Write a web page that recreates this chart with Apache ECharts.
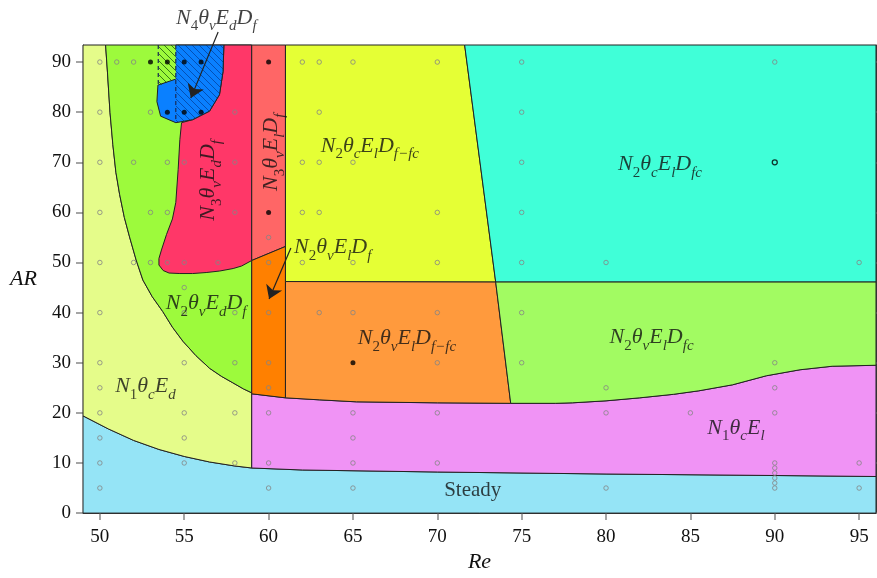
<!DOCTYPE html>
<html>
<head>
<meta charset="utf-8">
<title>Regime map</title>
<script src="https://cdn.jsdelivr.net/npm/echarts@6/dist/echarts.min.js"></script>
<style>
  html, body { margin: 0; padding: 0; background: #fff; }
  #chart { width: 877px; height: 578px; }
</style>
</head>
<body>
<div id="chart"></div>
<script>
const xTicks = [50, 55, 60, 65, 70, 75, 80, 85, 90, 95];
const yTicks = [0, 10, 20, 30, 40, 50, 60, 70, 80, 90];
const RE_MIN = 49, RE_MAX = 96, AR_MAX = 93.4;

// regime boundaries, points are [Re, AR]
const steadyLeft = [[49, 19.4], [50.5, 16.8], [52, 14.5], [53.5, 12.7], [55, 11.3], [56.5, 10.2], [58, 9.4], [59, 9.0]];
const steadyRight = [[59, 9.0], [62, 8.6], [70, 8.2], [80, 7.8], [90, 7.5], [96, 7.3]];
const n1Curve = [[50.34, 93.4], [50.45, 88], [50.6, 80], [50.77, 73.5], [50.95, 68], [51.17, 63.6], [51.45, 59],
  [51.76, 55.1], [52.15, 50.5], [52.55, 46.5], [53.1, 43.2], [53.73, 40.2], [54.3, 37.1], [54.92, 34.3],
  [55.7, 31.4], [56.5, 28.9], [57.2, 27.3], [57.88, 26.0], [58.5, 24.8], [59, 24.0]];
const elLeft = [[59, 23.8], [61, 23.0]];
const elMid = [[61, 23.0], [63, 22.6], [65.2, 22.2], [70, 22.0], [74.35, 21.9]];
const elRight = [[74.35, 21.9], [77, 21.9], [78, 22.0], [80, 22.4], [82, 23.0], [84, 23.7], [85.5, 24.4],
  [87.5, 25.6], [89.5, 27.4], [91.5, 28.6], [93.4, 29.3], [96, 29.5]];
const n3EdOutline = [[57.35, 93.4], [59, 93.4], [59, 50.4], [58.4, 49.3], [57.9, 48.8], [57.1, 48.3], [56.3, 48.0],
  [55.5, 47.8], [54.74, 47.8], [54.1, 47.9], [53.75, 48.4], [53.5, 49.5], [53.5, 50.8], [53.65, 52.5],
  [53.95, 55.6], [54.3, 58.7], [54.5, 62], [54.64, 68.6], [54.74, 74.5], [54.84, 77.9], [55.5, 78.5],
  [56.5, 80.2], [57.09, 83.5], [57.3, 88.1]];
const n4Outline = [[54.5, 86.6], [53.44, 85.4], [53.38, 82.1], [53.6, 79.2], [54.5, 77.9], [55.5, 78.5],
  [56.5, 80.2], [57.09, 83.5], [57.3, 88.1], [57.35, 93.4], [54.5, 93.4]];
const n4HatchGreen = [[53.46, 93.4], [53.46, 85.2], [54.5, 86.6], [54.5, 93.4]];
const n4HatchBlue = [[54.5, 93.4], [54.5, 77.9], [55.5, 78.5], [56.5, 80.2], [57.09, 83.5], [57.3, 88.1], [57.35, 93.4]];
const dashLines = [[[53.46, 93.4], [53.46, 85.2]], [[54.5, 93.4], [54.5, 77.9]]];
const salmonBox = [[59, 93.4], [59, 50.4], [61, 53.2], [61, 93.4]];
const darkOrangeBox = [[59, 50.4], [59, 23.8], [61, 23.0], [61, 53.2]];
const yellowBox = [[61, 93.4], [61, 46.2], [73.46, 46.1], [71.62, 93.4]];
const cyanBox = [[71.62, 93.4], [73.46, 46.1], [96, 46.1], [96, 93.4]];

// simulation runs
const hollowPts = [
  [50, 90], [51, 90], [52, 90], [62, 90], [63, 90], [65, 90], [70, 90], [75, 90], [90, 90],
  [50, 80], [53, 80], [58, 80], [63, 80], [75, 80],
  [50, 70], [52, 70], [54, 70], [55, 70], [58, 70], [62, 70], [63, 70], [65, 70], [75, 70],
  [50, 60], [53, 60], [54, 60], [58, 60], [62, 60], [63, 60], [70, 60], [75, 60],
  [60, 55],
  [50, 50], [52, 50], [53, 50], [54, 50], [55, 50], [57, 50], [60, 50], [62, 50], [65, 50], [70, 50], [75, 50], [80, 50], [95, 50],
  [55, 45],
  [50, 40], [55, 40], [58, 40], [60, 40], [63, 40], [65, 40], [70, 40], [75, 40],
  [50, 30], [55, 30], [58, 30], [60, 30], [70, 30], [75, 30], [90, 30],
  [50, 25], [60, 25], [80, 25], [90, 25],
  [50, 20], [55, 20], [58, 20], [60, 20], [65, 20], [70, 20], [80, 20], [85, 20], [90, 20],
  [50, 15], [55, 15], [65, 15],
  [50, 10], [55, 10], [58, 10], [60, 10], [65, 10], [70, 10], [90, 10], [95, 10],
  [90, 9], [90, 8], [90, 7], [90, 6],
  [50, 5], [60, 5], [65, 5], [80, 5], [90, 5], [95, 5]
];
const filledPts = [[53, 90], [54, 90], [55, 90], [56, 90], [60, 90], [54, 80], [55, 80], [56, 80], [60, 60], [65, 30]];
const darkPts = [[90, 70]];

// regime labels
const labelText = [
  '{i|N}{n|4}{i|θ}{s|v}{i|E}{s|d}{i|D}{s|f}',
  '{i|N}{n|3}{i|θ}{s|v}{i|E}{s|d}{i|D}{s|f}',
  '{i|N}{n|3}{i|θ}{s|v}{i|E}{s|l}{i|D}{s|f}',
  '{i|N}{n|2}{i|θ}{s|c}{i|E}{s|l}{i|D}{s|f−fc}',
  '{i|N}{n|2}{i|θ}{s|c}{i|E}{s|l}{i|D}{s|fc}',
  '{i|N}{n|2}{i|θ}{s|v}{i|E}{s|l}{i|D}{s|f}',
  '{i|N}{n|2}{i|θ}{s|v}{i|E}{s|d}{i|D}{s|f}',
  '{i|N}{n|2}{i|θ}{s|v}{i|E}{s|l}{i|D}{s|f−fc}',
  '{i|N}{n|2}{i|θ}{s|v}{i|E}{s|l}{i|D}{s|fc}',
  '{i|N}{n|1}{i|θ}{s|c}{i|E}{s|d}',
  '{i|N}{n|1}{i|θ}{s|c}{i|E}{s|l}',
  '{r|Steady}'
];
const labelPos = [[56.9, 98.7], [56.45, 66.4], [60.2, 72.0], [66.0, 73.2], [83.2, 69.5], [63.8, 52.9],
  [56.3, 41.8], [68.2, 34.7], [82.7, 34.9], [52.7, 25.2], [87.7, 16.9], [72.1, 4.6]];
const labelRotate = [0, 90, 90, 0, 0, 0, 0, 0, 0, 0, 0, 0];
const arrows = [[[57.01, 96.0], [55.39, 82.8]], [[61.32, 52.9], [60.03, 42.7]]];

function hatchTile(color) {
  const c = document.createElement('canvas');
  c.width = 7; c.height = 7;
  const g = c.getContext('2d');
  g.strokeStyle = color;
  g.lineWidth = 1;
  g.beginPath();
  g.moveTo(-1, -1); g.lineTo(8, 8);
  g.moveTo(-1, 6); g.lineTo(1, 8);
  g.moveTo(6, -1); g.lineTo(8, 1);
  g.stroke();
  return c;
}

const regions = [
  { pts: [[RE_MIN, 0]].concat(steadyLeft, steadyRight.slice(1), [[RE_MAX, 0]]), color: '#95E4F6' },
  { pts: [[RE_MIN, AR_MAX]].concat(n1Curve, steadyLeft.slice().reverse()), color: '#E5FC8A' },
  { pts: elLeft.concat(elMid.slice(1), elRight.slice(1), steadyRight.slice().reverse()), color: '#F093F5' },
  { pts: n1Curve.concat([[59, AR_MAX]]), color: '#9DFA3C' },
  { pts: n3EdOutline, color: '#FF3768' },
  { pts: n4Outline, color: '#0A80FF', open: true },
  { pts: n4HatchGreen, pattern: hatchTile('rgba(20,80,10,0.75)'), edge: false },
  { pts: n4HatchBlue, pattern: hatchTile('rgba(0,40,120,0.55)'), edge: false },
  { pts: salmonBox, color: '#FF6666' },
  { pts: darkOrangeBox, color: '#FF8000' },
  { pts: yellowBox, color: '#E5FF35' },
  { pts: cyanBox, color: '#40FFD8' },
  { pts: [[61, 46.2], [73.46, 46.1]].concat(elMid.slice().reverse()), color: '#FF9A3D' },
  { pts: [[73.46, 46.1], [96, 46.1]].concat(elRight.slice().reverse()), color: '#A2FB62' }
];

const serif = 'Liberation Serif';
const rich = {
  i: { fontFamily: serif, fontStyle: 'italic', fontSize: 22, color: '#111', verticalAlign: 'top', lineHeight: 23 },
  n: { fontFamily: serif, fontSize: 15, color: '#111', verticalAlign: 'top', lineHeight: 15, padding: [12, 0, 0, 0] },
  s: { fontFamily: serif, fontStyle: 'italic', fontSize: 15, color: '#111', verticalAlign: 'top', lineHeight: 15, padding: [12, 0, 0, 0] },
  r: { fontFamily: serif, fontSize: 21, color: '#111' }
};

const chart = echarts.init(document.getElementById('chart'));

const tickStyle = { color: '#888', width: 1.5 };
const lineStyle = { color: '#444', width: 1.2 };

chart.setOption({
  animation: false,
  backgroundColor: '#fff',
  grid: { left: 83, right: 1, top: 45, bottom: 62 },
  xAxis: [{
    type: 'value', min: RE_MIN, max: RE_MAX, position: 'bottom',
    name: 'Re', nameLocation: 'middle', nameGap: 34,
    nameTextStyle: { fontFamily: serif, fontStyle: 'italic', fontSize: 22, color: '#111' },
    axisLine: { show: true, lineStyle: lineStyle },
    axisTick: { show: true, length: 7, customValues: xTicks, lineStyle: tickStyle },
    axisLabel: { customValues: xTicks, fontFamily: serif, fontSize: 19, color: '#111', margin: 14 },
    splitLine: { show: false }
  }, {
    type: 'value', min: RE_MIN, max: RE_MAX, position: 'top',
    axisLine: { show: true, lineStyle: lineStyle },
    axisTick: { show: true, length: 7, customValues: xTicks, lineStyle: tickStyle },
    axisLabel: { show: false },
    splitLine: { show: false }
  }],
  yAxis: [{
    type: 'value', min: 0, max: AR_MAX, position: 'left',
    name: 'AR', nameLocation: 'middle', nameGap: 46, nameRotate: 0,
    nameTextStyle: { fontFamily: serif, fontStyle: 'italic', fontSize: 22, color: '#111' },
    axisLine: { show: true, lineStyle: lineStyle },
    axisTick: { show: true, length: 7, customValues: yTicks, lineStyle: tickStyle },
    axisLabel: { customValues: yTicks, fontFamily: serif, fontSize: 19, color: '#111', margin: 12 },
    splitLine: { show: false }
  }, {
    type: 'value', min: 0, max: AR_MAX, position: 'right',
    axisLine: { show: true, lineStyle: lineStyle },
    axisTick: { show: true, length: 7, customValues: yTicks, lineStyle: tickStyle },
    axisLabel: { show: false },
    splitLine: { show: false }
  }],
  series: [{
    type: 'custom',
    z: 1,
    data: regions.map(() => [RE_MIN, 0]),
    renderItem: (params, api) => {
      const r = regions[params.dataIndex];
      const pts = r.pts.map(p => api.coord(p));
      const fill = r.pattern ? { image: r.pattern, repeat: 'repeat' } : r.color;
      const children = [{ type: 'polygon', shape: { points: pts }, style: { fill: fill } }];
      if (r.edge !== false) {
        children.push({
          type: 'polyline',
          shape: { points: r.open ? pts : pts.concat([pts[0]]) },
          style: { stroke: '#222', lineWidth: 1, fill: null }
        });
      }
      return { type: 'group', children: children };
    }
  },
  ...dashLines.map(seg => ({
    type: 'line', z: 2, data: seg, symbol: 'none', silent: true,
    lineStyle: { color: '#1a2a55', width: 1.2, type: [4, 3] }
  })),
  {
    type: 'scatter', z: 3, data: hollowPts, symbol: 'circle', symbolSize: 4.5,
    itemStyle: { color: 'rgba(0,0,0,0)', borderColor: '#858585', borderWidth: 1 }
  }, {
    type: 'scatter', z: 3, data: filledPts, symbol: 'circle', symbolSize: 5,
    itemStyle: { color: '#000' }
  }, {
    type: 'scatter', z: 3, data: darkPts, symbol: 'circle', symbolSize: 5,
    itemStyle: { color: 'rgba(0,0,0,0)', borderColor: '#000', borderWidth: 1.3 }
  }, {
    type: 'lines', coordinateSystem: 'cartesian2d', z: 4, clip: false,
    symbol: ['none', 'arrow'], symbolSize: 13,
    lineStyle: { color: '#222', width: 1.2, opacity: 1 },
    data: arrows.map(a => ({ coords: a }))
  }, {
    type: 'scatter', z: 5, clip: false, symbolSize: 0,
    data: labelPos.map((p, i) => ({
      value: p,
      label: {
        show: true, position: 'inside', rotate: labelRotate[i],
        formatter: labelText[i], rich: rich
      }
    }))
  }]
});
</script>
</body>
</html>
